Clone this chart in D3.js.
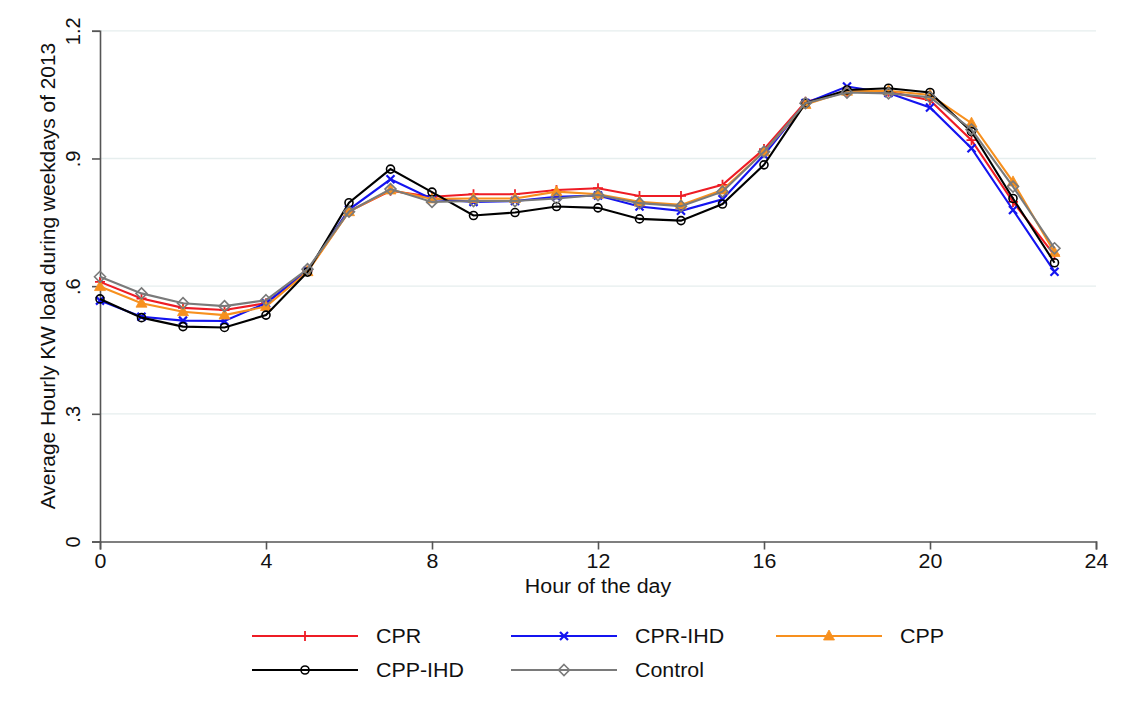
<!DOCTYPE html>
<html><head><meta charset="utf-8">
<script src="https://cdn.jsdelivr.net/npm/d3@7"></script>
<style>
html,body{margin:0;padding:0;background:#fff;}
svg{display:block;font-family:"Liberation Sans",Arial,sans-serif;}
</style></head>
<body>
<svg id="chart" width="1127" height="719"></svg>
<script>
const hours = [0,1,2,3,4,5,6,7,8,9,10,11,12,13,14,15,16,17,18,19,20,21,22,23];
const cpr     = [0.610,0.571,0.549,0.544,0.560,0.636,0.776,0.824,0.810,0.816,0.816,0.826,0.830,0.812,0.812,0.838,0.922,1.033,1.057,1.057,1.037,0.943,0.798,0.673];
const cprIhd  = [0.566,0.528,0.519,0.518,0.560,0.636,0.780,0.851,0.805,0.798,0.800,0.810,0.813,0.787,0.777,0.804,0.908,1.030,1.069,1.054,1.020,0.924,0.779,0.634];
const cpp     = [0.599,0.560,0.540,0.532,0.552,0.634,0.775,0.826,0.805,0.806,0.806,0.822,0.816,0.798,0.791,0.826,0.916,1.027,1.058,1.059,1.049,0.983,0.845,0.679];
const cppIhd  = [0.570,0.526,0.505,0.503,0.532,0.633,0.796,0.875,0.821,0.766,0.773,0.787,0.784,0.758,0.754,0.793,0.885,1.030,1.061,1.065,1.055,0.963,0.806,0.655];
const control = [0.622,0.583,0.560,0.553,0.567,0.640,0.775,0.828,0.798,0.800,0.800,0.806,0.814,0.795,0.788,0.822,0.916,1.030,1.055,1.053,1.044,0.968,0.834,0.689];
const xTicks = [0,4,8,12,16,20,24];
const yTicks = [0,0.3,0.6,0.9,1.2];
const yTickLabels = ["0",".3",".6",".9","1.2"];
const seriesNames = ["CPR","CPR-IHD","CPP","CPP-IHD","Control"];
const seriesColors = ["#ee1c25","#1414f0","#f7901e","#000000","#7a7a7a"];
const seriesMarkers = ["plus","cross","triangle","circle","diamond"];
const seriesValues = [cpr,cprIhd,cpp,cppIhd,control];

const FS = 20, SX = 1.07;
const svg = d3.select("#chart");
const x = d3.scaleLinear().domain([0,24]).range([100,1096]);
const y = d3.scaleLinear().domain([0,1.2]).range([541.5,30.8]);

// gridlines
svg.append("g").selectAll("line").data(yTicks.filter(d=>d>0)).join("line")
  .attr("x1",100).attr("x2",1096)
  .attr("y1",d=>y(d)).attr("y2",d=>y(d))
  .attr("stroke","#e6eeee").attr("stroke-width",1.3);

// axes
const xAxis = svg.append("g").attr("transform","translate(0,541.5)")
  .call(d3.axisBottom(x).tickValues(xTicks).tickSize(8).tickPadding(4).tickFormat(d3.format("d")));
xAxis.select(".domain").attr("stroke","#555").attr("stroke-width",1.6);
xAxis.selectAll(".tick line").attr("stroke","#555").attr("stroke-width",1.6);
xAxis.selectAll("text").attr("font-size",FS).attr("fill","#111")
  .attr("font-family","Liberation Sans, Arial, sans-serif")
  .attr("transform",`scale(${SX},1)`);

const yAxis = svg.append("g").attr("transform","translate(100,0)")
  .call(d3.axisLeft(y).tickValues(yTicks).tickSize(8).tickPadding(6).tickFormat((d,i)=>yTickLabels[i]));
yAxis.select(".domain").attr("stroke","#555").attr("stroke-width",1.6);
yAxis.selectAll(".tick line").attr("stroke","#555").attr("stroke-width",1.6);
yAxis.selectAll("text").attr("font-size",FS).attr("fill","#111")
  .attr("font-family","Liberation Sans, Arial, sans-serif")
  .attr("x",null).attr("dy",null)
  .attr("text-anchor","middle")
  .attr("transform",`translate(-20,0) rotate(-90)`);

// axis titles
svg.append("text").attr("transform",`translate(598,593) scale(${SX},1)`).attr("text-anchor","middle")
  .attr("font-size",FS).attr("fill","#111").text("Hour of the day");
svg.append("text").attr("transform",`translate(55,276) rotate(-90)`).attr("text-anchor","middle")
  .attr("font-size",20.9).attr("fill","#111").text("Average Hourly KW load during weekdays of 2013");

function drawMarker(g, type, cx, cy, color){
  const s = 5;
  if(type==="plus"){
    g.append("path").attr("d",`M${cx-s},${cy}H${cx+s}M${cx},${cy-s}V${cy+s}`)
      .attr("stroke",color).attr("stroke-width",1.8).attr("fill","none");
  } else if(type==="cross"){
    const c=4;
    g.append("path").attr("d",`M${cx-c},${cy-c}L${cx+c},${cy+c}M${cx-c},${cy+c}L${cx+c},${cy-c}`)
      .attr("stroke",color).attr("stroke-width",2.2).attr("fill","none");
  } else if(type==="triangle"){
    g.append("path").attr("d",`M${cx},${cy-6}L${cx+5.5},${cy+4}L${cx-5.5},${cy+4}Z`)
      .attr("fill",color).attr("stroke",color).attr("stroke-width",0.8);
  } else if(type==="circle"){
    g.append("circle").attr("cx",cx).attr("cy",cy).attr("r",4)
      .attr("fill","none").attr("stroke",color).attr("stroke-width",1.6);
  } else if(type==="diamond"){
    g.append("path").attr("d",`M${cx},${cy-5.5}L${cx+5.5},${cy}L${cx},${cy+5.5}L${cx-5.5},${cy}Z`)
      .attr("fill","none").attr("stroke",color).attr("stroke-width",1.6);
  }
}

const line = d3.line().x((d,i)=>x(hours[i])).y(d=>y(d));
seriesValues.forEach((vals,k)=>{
  const g = svg.append("g");
  g.append("path").datum(vals).attr("d",line)
    .attr("fill","none").attr("stroke",seriesColors[k]).attr("stroke-width",2.1);
  vals.forEach((v,i)=>drawMarker(g,seriesMarkers[k],x(hours[i]),y(v),seriesColors[k]));
});

// legend
const legendPos = [[252,636],[511,636],[776,636],[252,670],[511,670]];
seriesNames.forEach((name,k)=>{
  const [lx,ly] = legendPos[k];
  const g = svg.append("g");
  g.append("line").attr("x1",lx).attr("x2",lx+106).attr("y1",ly).attr("y2",ly)
    .attr("stroke",seriesColors[k]).attr("stroke-width",2.1);
  drawMarker(g,seriesMarkers[k],lx+53,ly,seriesColors[k]);
  g.append("text").attr("transform",`translate(${lx+124},${ly}) scale(${SX},1)`).attr("dy","0.35em")
    .attr("font-size",FS).attr("fill","#111").text(name);
});
</script>
</body></html>
